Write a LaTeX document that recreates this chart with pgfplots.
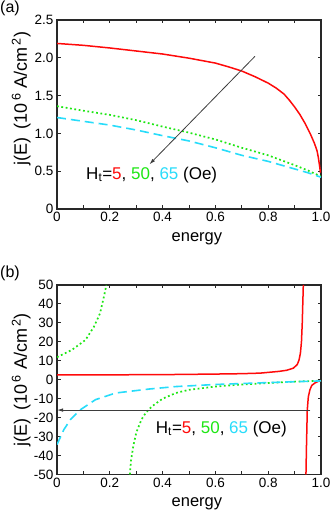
\documentclass[border=0pt]{standalone}
\usepackage{fontspec}
\setmainfont{Liberation Sans}
\usepackage{xcolor}
\usepackage{pgfplots}
\pgfplotsset{compat=1.18}
\usetikzlibrary{arrows.meta}

\definecolor{cred}{RGB}{255,10,10}
\definecolor{cgreen}{RGB}{30,230,20}
\definecolor{ccyan}{RGB}{40,220,250}
\definecolor{frame}{RGB}{40,40,40}

\pgfplotsset{
  panel/.style={
    scale only axis, anchor=south west,
    xmin=0, xmax=1,
    tick align=inside, major tick length=3.5bp, minor tick length=3.5bp,
    axis line style={frame,line width=1.2bp},
    every tick/.style={frame,line width=0.9bp},
    xtick={0,0.2,0.4,0.6,0.8,1},
    xticklabels={0,0.2,0.4,0.6,0.8,1.0},
    minor xtick={0.1,0.3,0.5,0.7,0.9},
    tick label style={font=\fontsize{13.5bp}{15bp}\selectfont},
    xlabel style={font=\fontsize{16.5bp}{18bp}\selectfont,
      at={(axis description cs:0.53,-0.17)},anchor=base},
    xlabel={energy},
    ylabel={j(E)\, (10\textsuperscript{\,6} A/cm\textsuperscript{\,2})},
  },
  red line/.style={cred,line width=1.5bp},
  green line/.style={cgreen,line width=1.7bp,dash pattern=on 1.8bp off 2.6bp},
  cyan line/.style={ccyan,line width=1.6bp,dash pattern=on 9bp off 5bp},
}

\begin{document}
\begin{tikzpicture}
\useasboundingbox (0,0) rectangle (332bp,515bp);
\node[anchor=north west,inner sep=0pt,font=\fontsize{16bp}{18bp}\selectfont] at (0,514bp) {(a)};
\node[anchor=north west,inner sep=0pt,font=\fontsize{16bp}{18bp}\selectfont] at (0,249bp) {(b)};

% (a)
\begin{axis}[panel, at={(57bp,306bp)}, width=264bp, height=189bp,
  ymin=0, ymax=2.5,
  ytick={0,0.5,1,1.5,2,2.5},
  yticklabels={0,0.5,1.0,1.5,2.0,2.5},
  ylabel style={font=\fontsize{18bp}{20bp}\selectfont,
    at={(axis description cs:-0.136,0.585)},anchor=center},
]
\addplot[red line] coordinates {
  (0,2.19) (0.1,2.165) (0.2,2.13) (0.3,2.09) (0.4,2.05) (0.5,1.995)
  (0.6,1.93) (0.65,1.88) (0.7,1.825) (0.75,1.75) (0.8,1.665) (0.83,1.6)
  (0.86,1.52) (0.88,1.44) (0.9,1.35) (0.92,1.25) (0.94,1.13) (0.96,0.99)
  (0.975,0.87) (0.985,0.77) (0.99,0.68) (0.995,0.56) (0.998,0.48)};
\addplot[green line] coordinates {
  (0,1.36) (0.1,1.30) (0.2,1.245) (0.3,1.175) (0.4,1.09) (0.5,1.01)
  (0.6,0.92) (0.7,0.81) (0.8,0.71) (0.9,0.58) (0.95,0.51) (1.0,0.43)};
\addplot[cyan line] coordinates {
  (0,1.21) (0.1,1.16) (0.2,1.11) (0.3,1.045) (0.4,0.97) (0.5,0.90)
  (0.6,0.81) (0.7,0.71) (0.8,0.63) (0.9,0.53) (0.95,0.48) (1.0,0.42)};
\draw[frame!90,line width=0.8bp,-{Latex[length=6bp,width=3.5bp]}]
  (axis cs:0.75,2.02) -- (axis cs:0.35,0.59);
\node[anchor=west,inner sep=0pt,font=\fontsize{17bp}{19bp}\selectfont]
  at (axis cs:0.11,0.45)
  {H\textsubscript{t}=\textcolor{cred}{5}, \textcolor{cgreen}{50}, \textcolor{ccyan}{65} (Oe)};
\end{axis}

% (b)
\begin{axis}[panel, at={(57bp,40.5bp)}, width=264bp, height=189.5bp,
  ymin=-50, ymax=50,
  ytick={-50,-40,-30,-20,-10,0,10,20,30,40,50},
  yticklabels={-50,-40,-30,-20,-10,0,10,20,30,40,50},
  ylabel style={font=\fontsize{18bp}{20bp}\selectfont,
    at={(axis description cs:-0.136,0.5)},anchor=center},
]
\addplot[red line] coordinates {
  (0,2.6) (0.2,2.6) (0.4,2.7) (0.6,3.0) (0.7,3.2) (0.77,3.5) (0.84,4.4)
  (0.87,5.0) (0.895,6.1) (0.91,8) (0.917,10.5) (0.922,14) (0.926,20)
  (0.929,30) (0.931,40) (0.933,50)};
\addplot[red line] coordinates {
  (0.943,-50) (0.945,-35) (0.948,-16) (0.952,-9) (0.958,-5.3)
  (0.965,-3) (0.977,-1.7) (0.99,-0.8) (1.0,-0.5)};
\addplot[green line] coordinates {
  (0,11.9) (0.057,15.8) (0.108,21) (0.14,28) (0.163,35) (0.178,44) (0.187,50)};
\addplot[green line] coordinates {
  (0.276,-50) (0.28,-43) (0.289,-35) (0.30,-28) (0.32,-21) (0.336,-17.5)
  (0.36,-14) (0.38,-12) (0.4,-10) (0.45,-7) (0.5,-5.3) (0.6,-3.6)
  (0.7,-2.5) (0.8,-1.7) (0.9,-1.0) (1.0,-0.5)};
\addplot[cyan line] coordinates {
  (0,-34.2) (0.026,-26.3) (0.051,-21) (0.089,-15.8) (0.146,-10.5)
  (0.222,-7) (0.349,-4.9) (0.45,-3.6) (0.6,-2.5) (0.8,-1.5) (1.0,-0.6)};
\draw[frame!90,line width=0.8bp,-{Latex[length=6bp,width=3.5bp]}]
  (axis cs:0.96,-16) -- (axis cs:0.0,-16);
\node[anchor=west,inner sep=0pt,font=\fontsize{17bp}{19bp}\selectfont]
  at (axis cs:0.374,-25.8)
  {H\textsubscript{t}=\textcolor{cred}{5}, \textcolor{cgreen}{50}, \textcolor{ccyan}{65} (Oe)};
\end{axis}
\end{tikzpicture}
\end{document}
